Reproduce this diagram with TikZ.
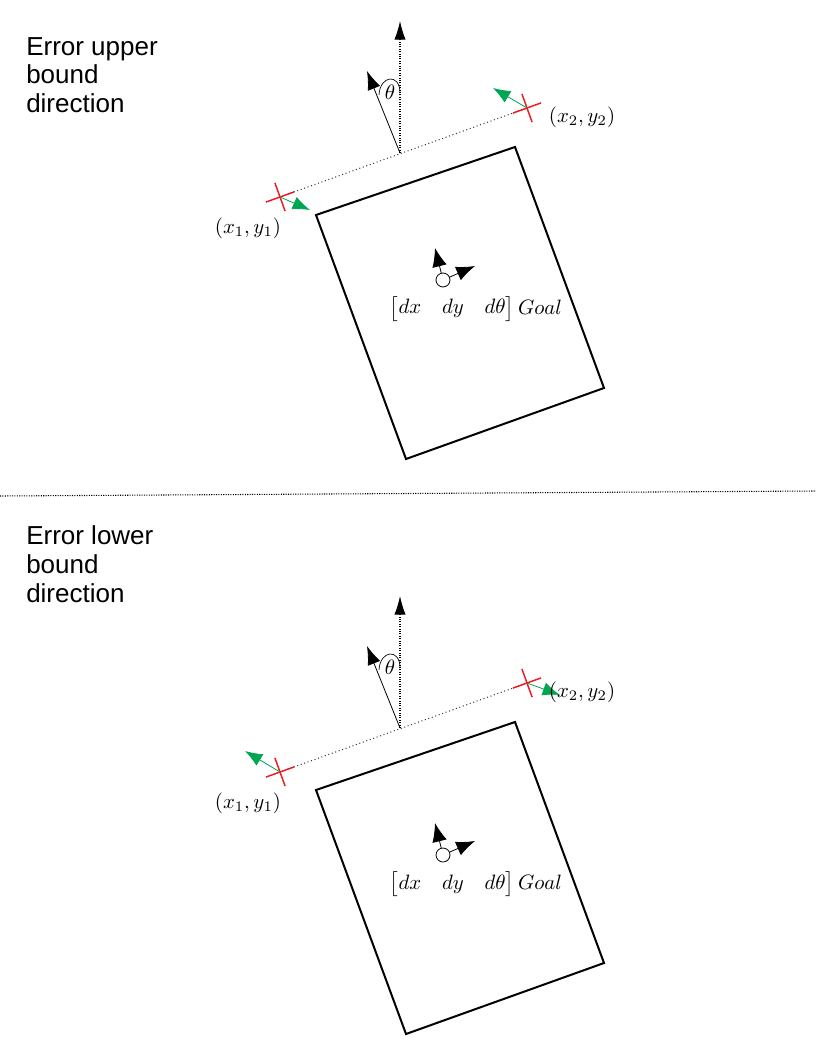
\documentclass[tikz,border=0pt]{standalone}
\usepackage{amsmath}
\usepackage{fontspec}
\newfontfamily\sidefont{Liberation Sans}
\usetikzlibrary{arrows.meta,calc}
\definecolor{crossred}{RGB}{237,28,36}
\definecolor{errgreen}{RGB}{0,166,81}
\tikzset{
  boxline/.style={line width=1.5pt, line join=miter},
  axisarrow/.style={densely dotted, line width=0.8pt, -{Latex[length=14pt,width=8.5pt]}},
  headingarrow/.style={line width=0.6pt, -{Latex[length=14pt,width=10pt]}},
  baseline/.style={dotted, line width=0.75pt, black!80},
  crossline/.style={crossred, line width=1.1pt},
  greenarrow/.style={errgreen, line width=0.6pt, -{Latex[length=13pt,width=10pt]}},
  goalarrow/.style={line width=0.6pt, -{Latex[length=14pt,width=11pt]}},
  mathlabel/.style={inner sep=0pt, scale=1.56},
  sidetext/.style={font=\sidefont\fontsize{19.5}{21.75}\selectfont, align=left, inner sep=0pt, anchor=base west},
}
\newcommand\drawpanel[4]{%
  \begin{scope}[shift={(0,#2)}]
    \coordinate (#1b) at (400,153);
    \coordinate (#1p1) at (280,197);
    \coordinate (#1p2) at (527,108);
    \coordinate (#1top) at (400,21);
    \coordinate (#1th) at (367,71);
    \coordinate (#1g1) at (#3);
    \coordinate (#1g2) at (#4);
    \draw[boxline] (316,215) -- (515,147) -- (604,388) -- (406,459) -- cycle;
    \draw[baseline] (#1p1) -- (#1p2);
    \draw[axisarrow] (#1b) -- (#1top);
    \draw[headingarrow] (#1b) -- (#1th);
    \draw[line width=0.5pt] (379,95) .. controls (380,75) and (400,73) .. (400,93);
    \node[mathlabel] (#1theta) at (390,92) {$\theta$};
    \draw[crossline] ($(#1p1)+(-14.1,5.1)$) -- ($(#1p1)+(14.1,-5.1)$);
    \draw[crossline] ($(#1p1)+(-5.1,-14.1)$) -- ($(#1p1)+(5.1,14.1)$);
    \draw[crossline] ($(#1p2)+(-14.1,5.1)$) -- ($(#1p2)+(14.1,-5.1)$);
    \draw[crossline] ($(#1p2)+(-5.1,-14.1)$) -- ($(#1p2)+(5.1,14.1)$);
    \draw[greenarrow] (#1p1) -- (#1g1);
    \draw[greenarrow] (#1p2) -- (#1g2);
    \node[mathlabel] (#1l1) at (248,228) {$(x_1,y_1)$};
    \node[mathlabel] (#1l2) at (582,117) {$(x_2,y_2)$};
    \node[draw, circle, line width=0.6pt, minimum size=10.5pt, inner sep=0pt] (#1goal) at (443,280) {};
    \coordinate (#1gu) at (435,248);
    \coordinate (#1gr) at (475,266);
    \draw[goalarrow] (#1goal) -- (#1gu);
    \draw[goalarrow] (#1goal) -- (#1gr);
    \node[mathlabel] (#1goaltext) at (476,309) {$\begin{bmatrix} dx & dy & d\theta\end{bmatrix} Goal$};
  \end{scope}}
\begin{document}
\begin{tikzpicture}[x=0.75pt,y=-0.75pt]
  \useasboundingbox (0,0) rectangle (816,1056);
  \node[sidetext] (uppertext) at (26,113) {Error upper\\bound\\direction};
  \node[sidetext] (lowertext) at (26,602) {Error lower\\bound\\direction};
  \coordinate (divL) at (0,496);
  \coordinate (divR) at (816,491);
  \draw[densely dotted, line width=0.8pt] (divL) -- (divR);
  \drawpanel{u}{0}{310,210}{493,88}
  \drawpanel{d}{575}{245,176}{560,120}
\end{tikzpicture}
\end{document}
